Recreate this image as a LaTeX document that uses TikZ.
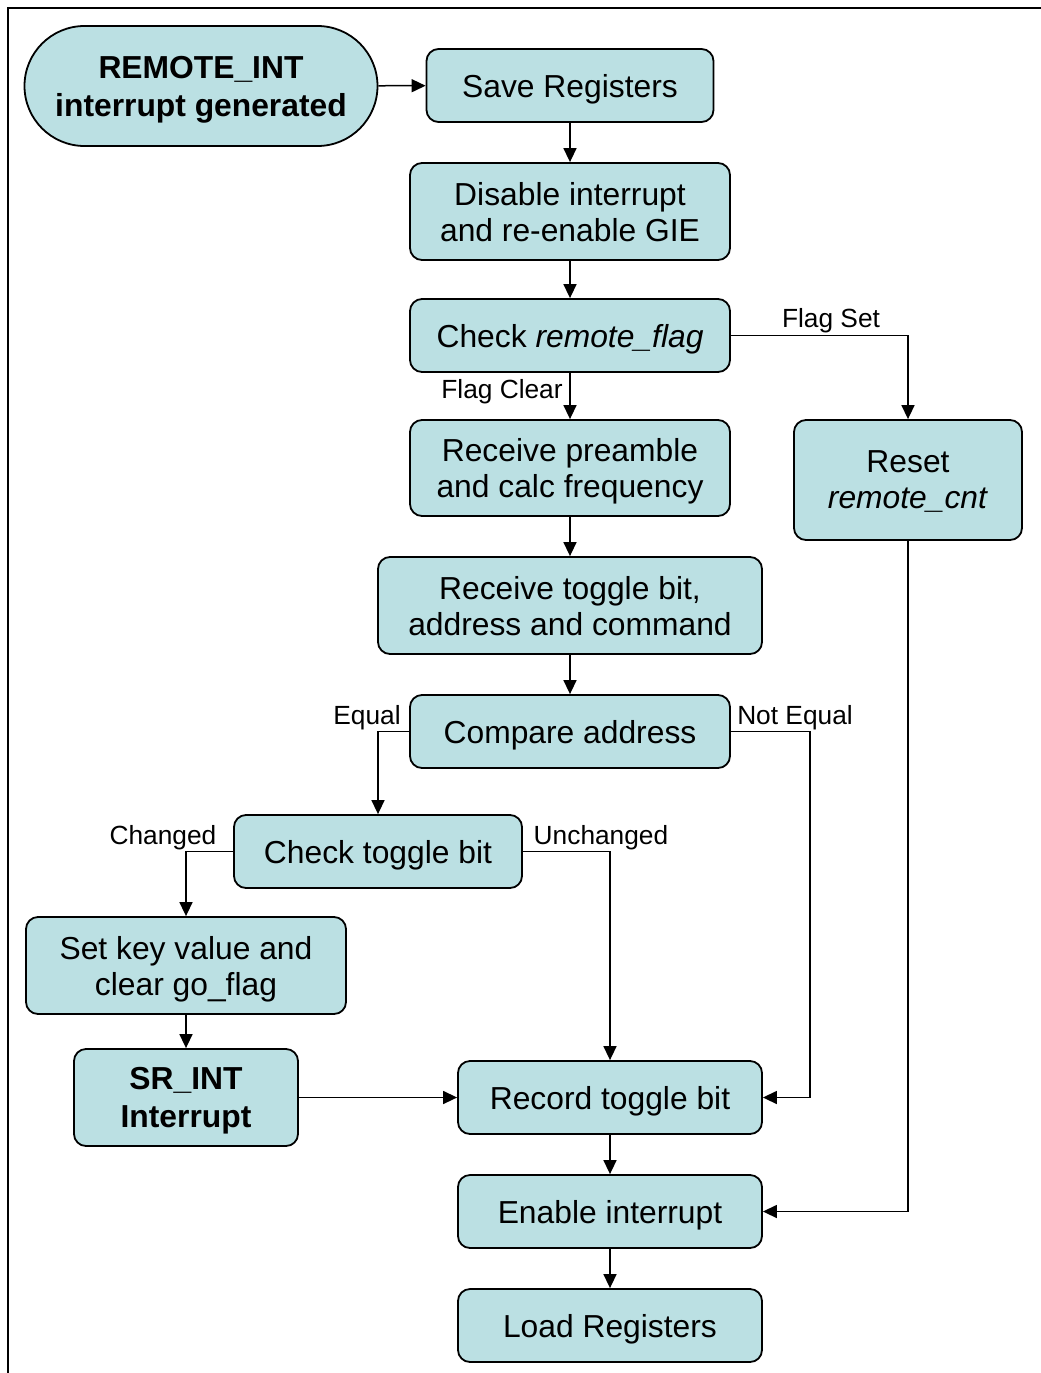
\documentclass[tikz,border=0pt]{standalone}
\usepackage{fontspec}
\setmainfont{Liberation Sans}
\usetikzlibrary{arrows.meta,shapes.misc}
\definecolor{boxfill}{RGB}{187,224,227}
\begin{document}
\begin{tikzpicture}[x=1pt,y=-1pt,
  stepbox/.style={draw=black,line width=1.8pt,fill=boxfill,rounded corners=12pt,
    inner sep=0pt,align=center,text depth=0pt,font=\fontsize{31.8}{36}\selectfont},
  startbox/.style={draw=black,line width=1.8pt,fill=boxfill,rounded rectangle,
    inner sep=0pt,align=center,text depth=0pt,font=\fontsize{31.8}{38}\selectfont\bfseries},
  flow/.style={line width=1.5pt,-{Triangle[length=14pt,width=13pt]}},
  edgelabel/.style={inner sep=0pt,text depth=0pt,font=\fontsize{26.3}{30}\selectfont}]
\useasboundingbox (0,0) rectangle (1041,1373);
% frame edges
\draw[line width=2pt] (1041,8) -- (8,8) -- (8,1373);

% process boxes
\node[startbox,minimum width=353pt,minimum height=120pt] (start) at (201,86) {REMOTE\_INT\\interrupt generated};
\node[stepbox,minimum width=287pt,minimum height=73pt] (save) at (570,85.5) {Save Registers};
\node[stepbox,minimum width=320pt,minimum height=97pt] (disable) at (570,211.5) {Disable interrupt\\and re-enable GIE};
\node[stepbox,minimum width=320pt,minimum height=73pt] (chkflag) at (570,335.5) {Check \textit{remote\_flag}};
\node[stepbox,minimum width=320pt,minimum height=96pt] (preamble) at (570,468) {Receive preamble\\and calc frequency};
\node[stepbox,minimum width=228pt,minimum height=120pt] (reset) at (908,480) {Reset\\\textit{remote\_cnt}};
\node[stepbox,minimum width=384pt,minimum height=97pt] (rxtoggle) at (570,605.5) {Receive toggle bit,\\address and command};
\node[stepbox,minimum width=320pt,minimum height=73pt] (compare) at (570,731.5) {Compare address};
\node[stepbox,minimum width=288pt,minimum height=73pt] (chktoggle) at (378,851.5) {Check toggle bit};
\node[stepbox,minimum width=320pt,minimum height=97pt] (setkey) at (186,965.5) {Set key value and\\clear go\_flag};
\node[stepbox,minimum width=224pt,minimum height=97pt,font=\fontsize{31.8}{38}\selectfont\bfseries] (srint) at (186,1097.5) {SR\_INT\\Interrupt};
\node[stepbox,minimum width=304pt,minimum height=73pt] (record) at (610,1097.5) {Record toggle bit};
\node[stepbox,minimum width=304pt,minimum height=73pt] (enable) at (610,1211.5) {Enable interrupt};
\node[stepbox,minimum width=304pt,minimum height=73pt] (load) at (610,1325.5) {Load Registers};

% branch labels
\node[edgelabel] (lflagset) at (831,318) {Flag Set};
\node[edgelabel] (lflagclr) at (502,389) {Flag Clear};
\node[edgelabel] (lequal) at (367,715) {Equal};
\node[edgelabel] (lnoteq) at (795,715) {Not Equal};
\node[edgelabel] (lchanged) at (163,835) {Changed};
\node[edgelabel] (lunchanged) at (601,835) {Unchanged};

% connectors
\draw[flow] (start) -- (save);
\draw[flow] (save) -- (disable);
\draw[flow] (disable) -- (chkflag);
\draw[flow] (chkflag) -- (preamble);
\draw[flow] (chkflag.east) -| (reset.north);
\draw[flow] (preamble) -- (rxtoggle);
\draw[flow] (rxtoggle) -- (compare);
\draw[flow] (compare.west) -| (chktoggle.north);
\draw[flow] (compare.east) -- (810,731.5) |- (record.east);
\draw[flow] (chktoggle.west) -| (setkey.north);
\draw[flow] (chktoggle.east) -| (record.north);
\draw[flow] (setkey) -- (srint);
\draw[flow] (srint) -- (record);
\draw[flow] (record) -- (enable);
\draw[flow] (enable) -- (load);
\draw[flow] (reset.south) |- (enable.east);
\end{tikzpicture}
\end{document}
